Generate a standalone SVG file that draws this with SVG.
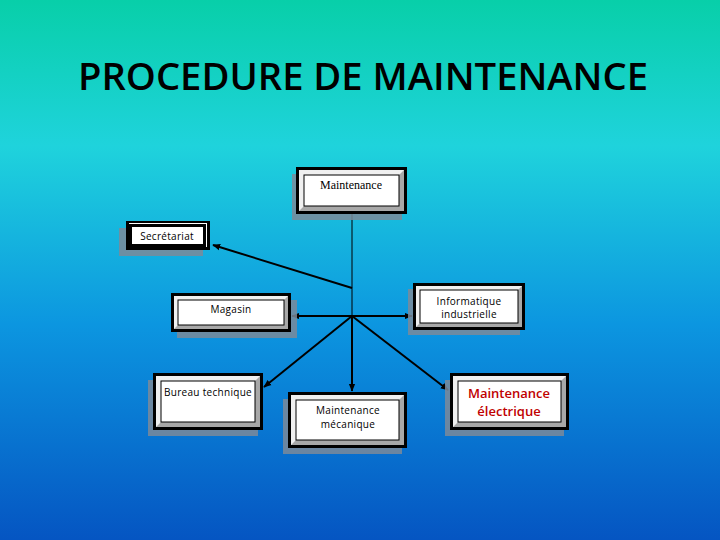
<svg xmlns="http://www.w3.org/2000/svg" width="720" height="540" viewBox="0 0 720 540">
<defs>
<linearGradient id="bg" x1="0" y1="0" x2="0" y2="1">
<stop offset="0" stop-color="#08cfa9"/>
<stop offset="0.27" stop-color="#1fd3dc"/>
<stop offset="0.6" stop-color="#0c96e0"/>
<stop offset="1" stop-color="#0555c2"/>
</linearGradient>
<marker id="arr" viewBox="0 0 10 10" refX="9" refY="5" markerWidth="4" markerHeight="4" orient="auto" markerUnits="strokeWidth">
<path d="M0,1 L10,5 L0,9 z" fill="#000"/>
</marker>
</defs>
<style>
.sh{fill:#7d8a99;opacity:0.85}
.ob{fill:#000}
.bv{fill:#a8a8a8}
.hl{fill:#f0f0f0}
.in{fill:#fff;stroke:#000;stroke-width:1}
.t{font-family:"Open Sans","Liberation Sans",sans-serif;font-size:10px;fill:#000;text-anchor:middle;letter-spacing:0.3px}
.ts{font-family:"Liberation Serif",serif;font-size:12px;fill:#000;text-anchor:middle}
.tr{font-family:"Open Sans","Liberation Sans",sans-serif;font-size:13px;font-weight:600;fill:#c00000;text-anchor:middle}
.c{stroke:#000;stroke-width:2;fill:none}
</style>
<rect width="720" height="540" fill="url(#bg)"/>
<text x="363" y="90" font-family="'Open Sans','Liberation Sans',sans-serif" font-size="38" font-weight="600" fill="#000" text-anchor="middle" textLength="570" lengthAdjust="spacingAndGlyphs">PROCEDURE DE MAINTENANCE</text>

<g id="connectors">
<line x1="352" y1="214" x2="352" y2="316" stroke="#000" stroke-width="1"/>
<line class="c" x1="352" y1="288" x2="213" y2="245" marker-end="url(#arr)"/>
<line class="c" x1="352" y1="316" x2="292" y2="316" marker-end="url(#arr)"/>
<line class="c" x1="352" y1="316" x2="412" y2="316" marker-end="url(#arr)"/>
<line class="c" x1="352" y1="316" x2="352" y2="391" marker-end="url(#arr)"/>
<line class="c" x1="352" y1="316" x2="264" y2="387" marker-end="url(#arr)"/>
<line class="c" x1="352" y1="316" x2="448" y2="390" marker-end="url(#arr)"/>
</g>

<g id="n-maintenance">
<rect class="sh" x="292" y="174" width="110" height="46"/>
<rect class="ob" x="296" y="167" width="111" height="47"/>
<rect class="bv" x="299" y="170" width="105" height="41"/>
<polygon class="hl" points="299,170 404,170 399,175 304,175 304,206 299,211"/>
<rect class="in" x="304" y="175" width="95" height="31"/>
<text class="ts" x="351" y="189">Maintenance</text>
</g>

<g id="n-secretariat">
<rect class="sh" x="119" y="228" width="84" height="28"/>
<rect class="ob" x="126" y="221" width="84" height="29"/>
<line x1="129" y1="223.5" x2="207" y2="223.5" stroke="#fff" stroke-width="1"/>
<line x1="206.5" y1="223" x2="206.5" y2="247" stroke="#fff" stroke-width="1"/>
<rect x="132" y="227" width="71" height="17" fill="#fff"/>
<text class="t" x="167" y="240">Secrétariat</text>
</g>

<g id="n-magasin">
<rect class="sh" x="177" y="300" width="120" height="38"/>
<rect class="ob" x="171" y="293" width="120" height="39"/>
<rect class="bv" x="174" y="296" width="114" height="33"/>
<polygon class="hl" points="174,296 288,296 284,300 178,300 178,325 174,329"/>
<rect class="in" x="178" y="300" width="106" height="25"/>
<text class="t" x="231" y="313">Magasin</text>
</g>

<g id="n-informatique">
<rect class="sh" x="408" y="289" width="112" height="46"/>
<rect class="ob" x="413" y="283" width="112" height="47"/>
<rect class="bv" x="416" y="286" width="106" height="41"/>
<polygon class="hl" points="416,286 522,286 518,290 420,290 420,323 416,327"/>
<rect class="in" x="420" y="290" width="98" height="33"/>
<text class="t" x="469" y="305">Informatique</text>
<text class="t" x="469" y="318">industrielle</text>
</g>

<g id="n-bureau">
<rect class="sh" x="148" y="380" width="110" height="56"/>
<rect class="ob" x="153" y="373" width="110" height="57"/>
<rect class="bv" x="156" y="376" width="104" height="51"/>
<polygon class="hl" points="156,376 260,376 255,381 161,381 161,422 156,427"/>
<rect class="in" x="161" y="381" width="94" height="41"/>
<text class="t" x="208" y="396">Bureau technique</text>
</g>

<g id="n-mecanique">
<rect class="sh" x="283" y="399" width="119" height="55"/>
<rect class="ob" x="288" y="392" width="119" height="56"/>
<rect class="bv" x="291" y="395" width="113" height="50"/>
<polygon class="hl" points="291,395 404,395 399,400 296,400 296,440 291,445"/>
<rect class="in" x="296" y="400" width="103" height="40"/>
<text class="t" x="348" y="414">Maintenance</text>
<text class="t" x="348" y="428">mécanique</text>
</g>

<g id="n-electrique">
<rect class="sh" x="445" y="380" width="119" height="56"/>
<rect class="ob" x="450" y="373" width="119" height="57"/>
<rect class="bv" x="453" y="376" width="113" height="51"/>
<polygon class="hl" points="453,376 566,376 561,381 458,381 458,422 453,427"/>
<rect class="in" x="458" y="381" width="103" height="41"/>
<text class="tr" x="509" y="398">Maintenance</text>
<text class="tr" x="509" y="416">électrique</text>
</g>
</svg>
